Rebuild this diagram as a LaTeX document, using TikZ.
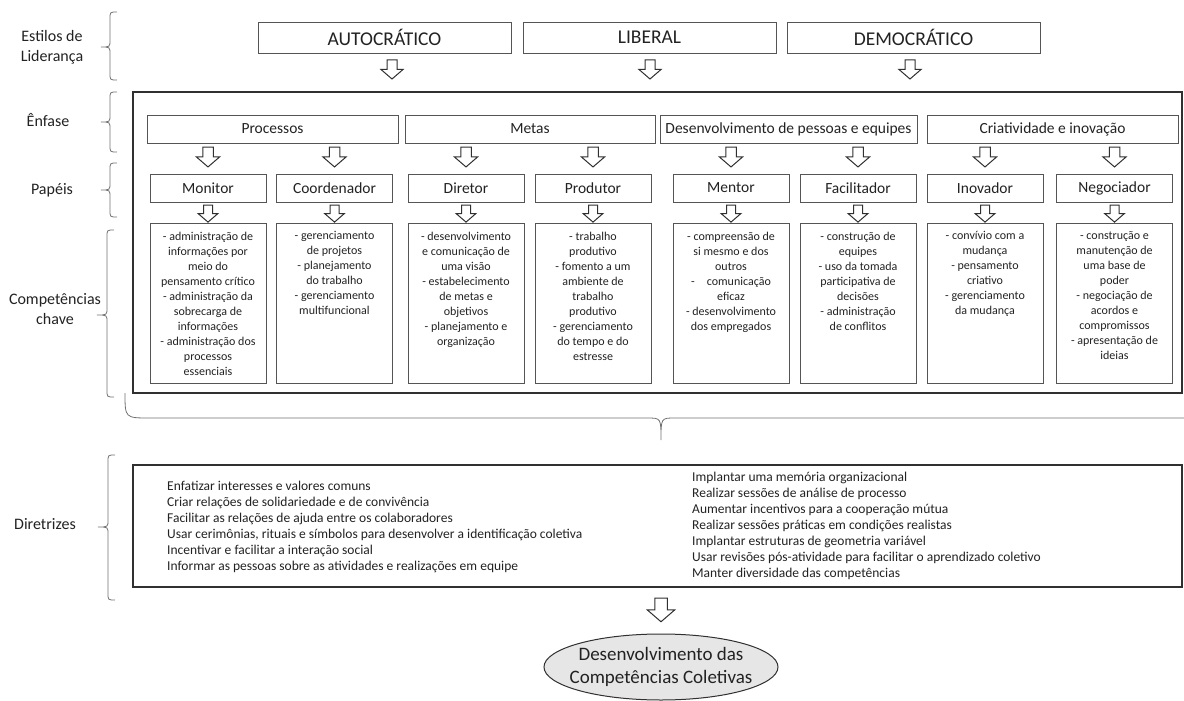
\documentclass[tikz,border=0pt]{standalone}
\usepackage{fontspec}
\setmainfont{Carlito}
\usetikzlibrary{calc,shapes.geometric}
\definecolor{txt}{HTML}{222222}
\definecolor{edge}{HTML}{555555}
\definecolor{framec}{HTML}{303030}
\definecolor{brc}{HTML}{707070}
\definecolor{ellfill}{HTML}{E6E6E6}
\newcommand{\mybrace}[5]{\draw[brace] (#1+7,#2) .. controls (#1,#2) .. (#1,#2+7) -- (#1,#3-7) .. controls (#1,#3) .. (#5,#3) .. controls (#1,#3) .. (#1,#3+7) -- (#1,#4-7) .. controls (#1,#4) .. (#1+7,#4);}
\begin{document}
\begin{tikzpicture}[x=1pt,y=-1pt,
 box/.style={draw=edge, line width=0.9pt, text=txt, inner sep=0pt},
 topbox/.style={box, minimum width=253pt, minimum height=31pt, font=\fontsize{19.5}{23}\selectfont},
 enfbox/.style={box, minimum height=28pt, font=\fontsize{15.5}{19}\selectfont},
 rolebox/.style={box, minimum width=116pt, minimum height=28pt, font=\fontsize{15.5}{19}\selectfont},
 compbox/.style={box, minimum width=116pt, minimum height=160pt},
 comptext/.style={text=txt, align=center, inner sep=0pt, font=\fontsize{12}{15}\selectfont, anchor=north},
 lbl/.style={text=txt, align=center, font=\fontsize{16}{20}\selectfont},
 dirtext/.style={text=txt, align=left, inner sep=0pt, font=\fontsize{13.5}{16}\selectfont, anchor=west},
 framebox/.style={draw=framec, line width=1.8pt, inner sep=0pt},
 brace/.style={draw=brc, line width=0.8pt},
 blk/.style={draw=framec, line width=1pt, fill=white, line join=miter},
 downarr/.pic={\path[blk] (-5,0) -- (5,0) -- (5,9.5) -- (11,9.5) -- (0,19) -- (-11,9.5) -- (-5,9.5) -- cycle;},
]
\useasboundingbox (0,0) rectangle (1184,701);

% left labels
\node[lbl] (lestilos) at (52,47) {Estilos de\\Liderança};
\node[lbl] (lenf) at (48,120) {Ênfase};
\node[lbl] (lpap) at (52,190) {Papéis};
\node[lbl] (lcomp) at (55,309) {Competências\\chave};
\node[lbl] (ldir) at (45,524) {Diretrizes};

% braces
\mybrace{110}{12}{47}{80}{101}
\mybrace{110}{92}{122}{152}{101}
\mybrace{110}{163}{190}{217}{101}
\mybrace{107}{230}{315}{397}{97}
\mybrace{108}{455}{527}{600}{98}

% top styles
\node[topbox] (auto) at (384.5,37.5) {AUTOCRÁTICO};
\node[topbox] (lib) at (649.5,37.5) {LIBERAL};
\node[topbox] (demo) at (913.5,37.5) {DEMOCRÁTICO};
\pic at (392,60) {downarr};
\pic at (650,60) {downarr};
\pic at (910,60) {downarr};

% outer frame
\node[framebox, minimum width=1049pt, minimum height=301pt] (outer) at (657.5,242.5) {};

% enfase
\node[enfbox, minimum width=251pt] (proc) at (272.5,129) {Processos};
\node[enfbox, minimum width=250pt] (metas) at (530,129) {Metas};
\node[enfbox, minimum width=257pt] (desenv) at (788.5,129) {Desenvolvimento de pessoas e equipes};
\node[enfbox, minimum width=251pt] (criat) at (1052.5,129) {Criatividade e inovação};

% columns
\foreach \cx/\nm/\role in {208/c1/Monitor, 334.5/c2/Coordenador, 466/c3/Diretor, 593/c4/Produtor, 731/c5/Mentor, 858/c6/Facilitador, 985/c7/Inovador, 1114.5/c8/Negociador}{
  \pic[scale=1.05] at (\cx,147) {downarr};
  \node[rolebox] (r\nm) at (\cx,188) {\role};
  \pic[scale=0.9] at (\cx,205) {downarr};
  \node[compbox] (b\nm) at (\cx,303) {};
}

\node[comptext] (t1) at (208,231.5) {- administração de\\informações por\\meio do\\pensamento crítico\\- administração da\\sobrecarga de\\informações\\- administração dos\\processos\\essenciais};
\node[comptext] (t2) at (334.5,231.5) {- gerenciamento\\de projetos\\- planejamento\\do trabalho\\- gerenciamento\\multifuncional};
\node[comptext] (t3) at (466,231.5) {- desenvolvimento\\e comunicação de\\uma visão\\- estabelecimento\\de metas e\\objetivos\\- planejamento e\\organização};
\node[comptext] (t4) at (593,231.5) {- trabalho\\produtivo\\- fomento a um\\ambiente de\\trabalho\\produtivo\\- gerenciamento\\do tempo e do\\estresse};
\node[comptext] (t5) at (731,231.5) {- compreensão de\\si mesmo e dos\\outros\\-\hspace{1em}comunicação\\eficaz\\- desenvolvimento\\dos empregados};
\node[comptext] (t6) at (858,231.5) {- construção de\\equipes\\- uso da tomada\\participativa de\\decisões\\- administração\\de conflitos};
\node[comptext] (t7) at (985,231.5) {- convívio com a\\mudança\\- pensamento\\criativo\\- gerenciamento\\da mudança};
\node[comptext] (t8) at (1114.5,231.5) {- construção e\\manutenção de\\uma base de\\poder\\- negociação de\\acordos e\\compromissos\\- apresentação de\\ideias};

% bottom brace
\draw[brace] (125,393) .. controls (125,418) .. (150,418) -- (647,418) .. controls (661,418) .. (661,440) .. controls (661,418) .. (675,418) -- (1184,418);

% diretrizes
\node[framebox, minimum width=1049pt, minimum height=122pt] (dirbox) at (657.5,526) {};
\node[dirtext] (dl) at (167,527) {Enfatizar interesses e valores comuns\\Criar relações de solidariedade e de convivência\\Facilitar as relações de ajuda entre os colaboradores\\Usar cerimônias, rituais e símbolos para desenvolver a identificação coletiva\\Incentivar e facilitar a interação social\\Informar as pessoas sobre as atividades e realizações em equipe};
\node[dirtext] (dr) at (692,526) {Implantar uma memória organizacional\\Realizar sessões de análise de processo\\Aumentar incentivos para a cooperação mútua\\Realizar sessões práticas em condições realistas\\Implantar estruturas de geometria variável\\Usar revisões pós-atividade para facilitar o aprendizado coletivo\\Manter diversidade das competências};

\pic[scale=1.25] at (661,598) {downarr};
\coordinate (rc) at (661,667);
\path[draw=framec, line width=1pt, fill=ellfill] (rc) ellipse [x radius=117, y radius=33];
\node[text=txt, inner sep=0pt, align=center, font=\fontsize{19}{23}\selectfont] (res) at (rc) {Desenvolvimento das\\Competências Coletivas};
\end{tikzpicture}
\end{document}
